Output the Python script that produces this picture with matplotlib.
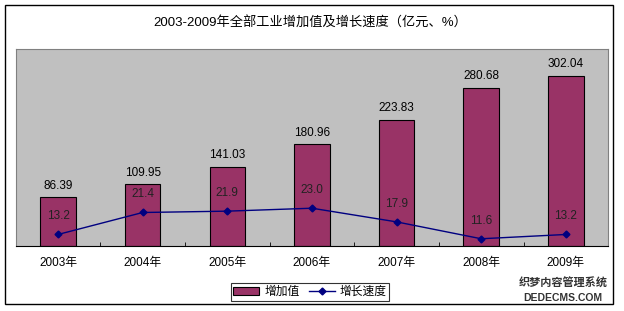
import matplotlib
matplotlib.use('Agg')
import matplotlib.pyplot as plt
from matplotlib.patches import Rectangle
from matplotlib.lines import Line2D

plt.rcParams['font.family'] = ['Liberation Sans', 'Noto Sans CJK SC', 'DejaVu Sans']

years = ['2003年', '2004年', '2005年', '2006年', '2007年', '2008年', '2009年']
addedValue = [86.39, 109.95, 141.03, 180.96, 223.83, 280.68, 302.04]
growthRate = [13.2, 21.4, 21.9, 23.0, 17.9, 11.6, 13.2]

fig = plt.figure(figsize=(6.24, 3.11), dpi=100)
fig.patch.set_facecolor('white')

# outer chart frame
fig.patches.append(Rectangle((5 / 624, 7 / 311), 608 / 624, 299 / 311, transform=fig.transFigure,
                             fill=False, edgecolor='black', linewidth=1.0))

ax = fig.add_axes([15.7 / 624, 65 / 311, 592.5 / 624, 197 / 311])
ax.set_facecolor('#C0C0C0')
x = list(range(len(years)))
bars = ax.bar(x, addedValue, width=0.42, color='#993366', edgecolor='black', linewidth=0.8, zorder=2)
ax.set_xlim(-0.5, len(years) - 0.5)
ax.set_ylim(0, 350)
ax.set_yticks([])
ax.set_xticks(x)
ax.set_xticklabels(years, fontsize=8.5)
ax.tick_params(axis='x', length=0, pad=8)
# category boundary ticks
ax.set_xticks([i + 0.5 for i in x[:-1]], minor=True)
ax.tick_params(axis='x', which='minor', length=3, direction='in', color='black')
for s in ['top', 'left', 'right']:
    ax.spines[s].set_color('#808080')
ax.spines['bottom'].set_color('black')
for xi, v in zip(x, addedValue):
    ax.annotate('%.2f' % v, (xi, v), xytext=(0, 4), textcoords='offset points',
                ha='center', va='bottom', fontsize=8.5)

ax2 = ax.twinx()
ax2.plot(x, growthRate, color='#000080', marker='D', markersize=3.5, linewidth=1.0, zorder=3)
ax2.set_ylim(8.9, 82.4)
ax2.set_yticks([])
for s in ax2.spines.values():
    s.set_visible(False)
for xi, v in zip(x, growthRate):
    ax2.annotate('%.1f' % v, (xi, v), xytext=(0, 13), textcoords='offset points',
                 ha='center', va='center', fontsize=8.5, color='#222222')

fig.text(0.497, 1 - 23 / 311, '2003-2009年全部工业增加值及增长速度（亿元、%）',
         ha='center', va='center', fontsize=9.5)

handles = [Rectangle((0, 0), 1, 1, facecolor='#993366', edgecolor='black', linewidth=0.8),
           Line2D([], [], color='#000080', marker='D', markersize=3.5, linewidth=1.0)]
leg = fig.legend(handles, ['增加值', '增长速度'], loc='center', bbox_to_anchor=(310 / 624, 1 - 292 / 311),
                 ncol=2, fontsize=8.5, frameon=True, fancybox=False, edgecolor='black',
                 borderpad=0.25, handlelength=2.2, handletextpad=0.4, columnspacing=0.8)
leg.get_frame().set_linewidth(0.8)

# watermark
fig.text(563 / 624, 1 - 283 / 311, '织梦内容管理系统', ha='center', va='center', fontsize=8,
         fontweight='bold', color='#333333')
fig.text(563 / 624, 1 - 298 / 311, 'DEDECMS.COM', ha='center', va='center', fontsize=7.5,
         fontweight='bold', color='#333333')

plt.savefig('out.png', dpi=100)
